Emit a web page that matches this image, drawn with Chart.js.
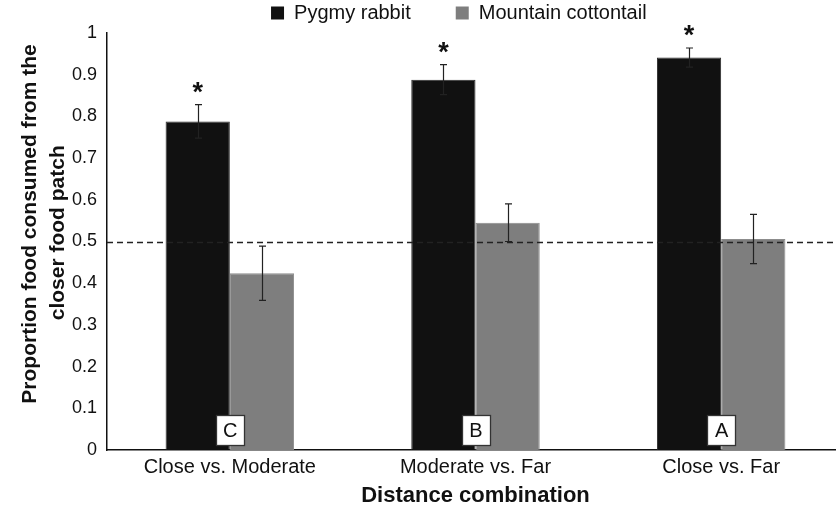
<!DOCTYPE html>
<html><head><meta charset="utf-8">
<script src="https://cdn.jsdelivr.net/npm/chart.js@4/dist/chart.umd.min.js"></script>
<style>html,body{margin:0;padding:0;background:#fff;overflow:hidden;width:836px;height:506px}#wrap{width:844px;height:506px}</style>
</head><body><div id="wrap"><canvas id="c" width="844" height="506"></canvas></div>
<script>
const categories = ["Close vs. Moderate", "Moderate vs. Far", "Close vs. Far"];
const pygmyValues = [0.788, 0.888, 0.941];
const pygmyErrors = [0.040, 0.036, 0.023];
const cottontailValues = [0.424, 0.545, 0.506];
const cottontailErrors = [0.065, 0.045, 0.059];
const significant = [true, true, true];
const groupLetters = ["C", "B", "A"];
const referenceLine = 0.5;
const yTicks = [0, 0.1, 0.2, 0.3, 0.4, 0.5, 0.6, 0.7, 0.8, 0.9, 1];

const FONT = "'Liberation Sans', Arial, sans-serif";

const errs = [pygmyErrors, cottontailErrors];

const overlay = {
  id: 'overlay',
  afterDatasetsDraw(chart) {
    const ctx = chart.ctx;
    const y = chart.scales.y;
    const area = chart.chartArea;
    ctx.save();
    ctx.strokeStyle = '#222';
    ctx.lineWidth = 1.3;
    ctx.setLineDash([6, 4]);
    const yr = Math.round(y.getPixelForValue(referenceLine)) + 0.5;
    ctx.beginPath(); ctx.moveTo(area.left, yr); ctx.lineTo(area.right, yr); ctx.stroke();
    ctx.restore();
    chart.data.datasets.forEach((ds, di) => {
      const meta = chart.getDatasetMeta(di);
      meta.data.forEach((bar, i) => {
        const v = ds.data[i], e = errs[di][i];
        const x = Math.round(bar.x) + 0.5;
        const yt = y.getPixelForValue(v + e), yb = y.getPixelForValue(v - e);
        ctx.save();
        ctx.strokeStyle = '#222'; ctx.lineWidth = 1.2;
        ctx.beginPath();
        ctx.moveTo(x, yt); ctx.lineTo(x, yb);
        ctx.moveTo(x - 3.5, yt); ctx.lineTo(x + 3.5, yt);
        ctx.moveTo(x - 3.5, yb); ctx.lineTo(x + 3.5, yb);
        ctx.stroke();
        ctx.restore();
        if (di === 0 && significant[i]) {
          ctx.save();
          ctx.fillStyle = '#111';
          ctx.font = 'bold 27px ' + FONT;
          ctx.textAlign = 'center';
          ctx.textBaseline = 'alphabetic';
          ctx.fillText('*', bar.x, yt - 4);
          ctx.restore();
        }
      });
    });
    const xs = chart.scales.x;
    categories.forEach((c, i) => {
      const cx = xs.getPixelForValue(i);
      const w = 28, h = 30;
      const bx = Math.round(cx - w / 2) + 0.5, by = Math.round(y.getPixelForValue(0)) - 5 - h + 0.5;
      ctx.save();
      ctx.fillStyle = '#fff'; ctx.strokeStyle = '#333'; ctx.lineWidth = 1.3;
      ctx.fillRect(bx, by, w, h); ctx.strokeRect(bx, by, w, h);
      ctx.fillStyle = '#111'; ctx.font = '20px ' + FONT;
      ctx.textAlign = 'center'; ctx.textBaseline = 'middle';
      ctx.fillText(groupLetters[i], cx + 0.5, by + h / 2 + 1);
      ctx.restore();
    });
  }
};

new Chart(document.getElementById('c'), {
  type: 'bar',
  data: {
    labels: categories,
    datasets: [
      { label: 'Pygmy rabbit', data: pygmyValues, backgroundColor: '#111111', borderColor: '#2a2a2a', borderWidth: 1,
        barPercentage: 1, categoryPercentage: 0.523 },
      { label: 'Mountain cottontail', data: cottontailValues, backgroundColor: '#7e7e7e', borderColor: '#8c8c8c', borderWidth: 1,
        barPercentage: 1, categoryPercentage: 0.523 }
    ]
  },
  options: {
    responsive: false,
    animation: false,
    devicePixelRatio: 1,
    layout: { padding: { left: 0, right: 0, top: -42, bottom: -3 } },
    plugins: {
      legend: {
        position: 'top',
        fullSize: false,
        labels: {
          color: '#111', font: { family: FONT, size: 20 },
          boxWidth: 13, boxHeight: 13, padding: 45,
          generateLabels(chart) {
            return chart.data.datasets.map((d, i) => ({
              text: i === 1 ? d.label + '      ' : d.label,
              fillStyle: d.backgroundColor, strokeStyle: d.backgroundColor,
              lineWidth: 0, datasetIndex: i, fontColor: '#111'
            }));
          }
        }
      },
      tooltip: { enabled: false }
    },
    scales: {
      x: {
        grid: { display: false, drawTicks: false },
        border: { color: '#111', width: 1.5 },
        ticks: { color: '#111', font: { family: FONT, size: 20 }, padding: 5 },
        title: { display: true, text: 'Distance combination', color: '#111',
                 font: { family: FONT, size: 22, weight: 'bold' }, padding: { top: 0, bottom: 0 } },
        afterFit(s) { s.height = 59; }
      },
      y: {
        min: 0, max: 1,
        afterBuildTicks(s) { s.ticks = yTicks.map(v => ({ value: v })); },
        grid: { display: false, drawOnChartArea: false, drawTicks: true, tickLength: 5, color: '#111' },
        border: { color: '#111', width: 1.5 },
        ticks: { color: '#111', font: { family: FONT, size: 18 }, padding: 5,
                 callback: v => String(v) },
        title: { display: true, text: ['      Proportion food consumed from the', '   closer food patch'], color: '#111',
                 font: { family: FONT, size: 21, weight: 'bold', lineHeight: 1.33 }, padding: { top: 16, bottom: 0 } },
        afterFit(s) { s.width = 107; }
      }
    }
  },
  plugins: [overlay]
});
</script></body></html>
